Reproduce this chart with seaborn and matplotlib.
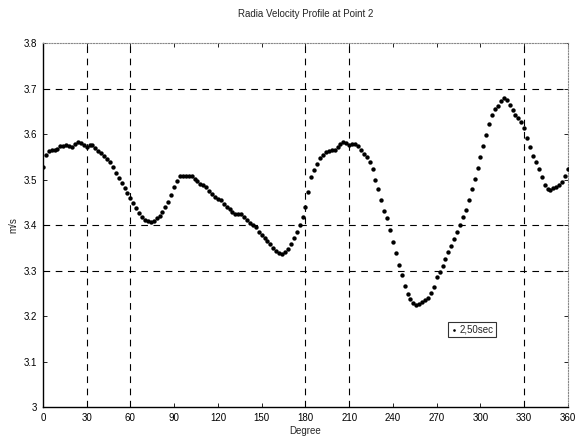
import matplotlib

matplotlib.use("Agg")
import matplotlib.pyplot as plt
import pandas as pd
import seaborn as sns

# angle (deg) and radial velocity (m/s), every 2 degrees
degrees = list(range(0, 361, 2))
velocity = [
    3.528, 3.555, 3.562, 3.565, 3.566, 3.568, 3.573, 3.575, 3.576, 3.573,
    3.572, 3.578, 3.583, 3.580, 3.576, 3.572, 3.576, 3.576, 3.570, 3.564,
    3.558, 3.552, 3.546, 3.538, 3.527, 3.515, 3.503, 3.492, 3.481, 3.470,
    3.459, 3.448, 3.437, 3.427, 3.417, 3.411, 3.409, 3.408, 3.410, 3.415,
    3.421, 3.429, 3.440, 3.452, 3.467, 3.484, 3.497, 3.508, 3.509, 3.507,
    3.508, 3.507, 3.502, 3.496, 3.491, 3.488, 3.483, 3.475, 3.468, 3.462,
    3.458, 3.455, 3.447, 3.440, 3.435, 3.429, 3.424, 3.425, 3.424, 3.418,
    3.411, 3.405, 3.400, 3.395, 3.386, 3.378, 3.372, 3.366, 3.359, 3.350,
    3.343, 3.338, 3.337, 3.340, 3.348, 3.358, 3.371, 3.384, 3.400, 3.418,
    3.440, 3.472, 3.505, 3.521, 3.535, 3.547, 3.555, 3.560, 3.564, 3.565,
    3.566, 3.572, 3.579, 3.582, 3.580, 3.577, 3.578, 3.579, 3.573, 3.566,
    3.557, 3.549, 3.539, 3.523, 3.500, 3.480, 3.455, 3.431, 3.415, 3.390,
    3.364, 3.338, 3.312, 3.290, 3.267, 3.249, 3.237, 3.229, 3.224, 3.227,
    3.232, 3.236, 3.241, 3.250, 3.264, 3.285, 3.296, 3.310, 3.326, 3.340,
    3.354, 3.370, 3.386, 3.400, 3.417, 3.434, 3.456, 3.479, 3.502, 3.526,
    3.550, 3.574, 3.598, 3.622, 3.643, 3.655, 3.663, 3.672, 3.680, 3.674,
    3.664, 3.654, 3.643, 3.635, 3.626, 3.613, 3.592, 3.571, 3.551, 3.538,
    3.524, 3.505, 3.488, 3.479, 3.477, 3.481, 3.484, 3.488, 3.495, 3.508,
    3.524,
]

x_ticks = list(range(0, 361, 30))
y_ticks = [3, 3.1, 3.2, 3.3, 3.4, 3.5, 3.6, 3.7, 3.8]
y_tick_labels = ["3", "3.1", "3.2", "3.3", "3.4", "3.5", "3.6", "3.7", "3.8"]
# only some of the grid lines survived in the scan
dark_vgrid = [30, 60, 180, 210, 330]
dark_hgrid = [3.3, 3.4, 3.7]

df = pd.DataFrame({"Degree": degrees, "m/s": velocity})

sns.set_theme(style="white")
plt.rcParams["font.family"] = ["Liberation Sans", "DejaVu Sans"]

fig = plt.figure(figsize=(5.79, 4.45), dpi=100)
ax = fig.add_axes([0.074, 0.085, 0.907, 0.818])

for xv in dark_vgrid:
    ax.axvline(xv, color="black", lw=0.8, ls=(0, (6, 5)), zorder=1)
for yv in dark_hgrid:
    ax.axhline(yv, color="black", lw=0.8, ls=(0, (6, 5)), zorder=1)

sns.scatterplot(data=df, x="Degree", y="m/s", ax=ax, color="black", s=10,
                linewidth=0, marker="o", label="2,50sec", zorder=3)

ax.set_xlim(0, 360)
ax.set_ylim(3, 3.8)
ax.set_xticks(x_ticks)
ax.set_yticks(y_ticks)
ax.set_yticklabels(y_tick_labels)
ax.tick_params(direction="in", length=3, width=0.6, labelsize=7, pad=4,
               bottom=True, left=True, top=True, right=True, colors="black")

for side in ("left", "bottom"):
    ax.spines[side].set_color("black")
    ax.spines[side].set_linewidth(1.0)
for side in ("top", "right"):
    ax.spines[side].set_color("#888888")
    ax.spines[side].set_linewidth(0.8)
    ax.spines[side].set_linestyle((0, (1, 1.5)))

ax.set_xlabel("Degree", fontsize=7, labelpad=2)
ax.set_ylabel("m/s", fontsize=7, labelpad=4)
ax.set_title("Radia Velocity Profile at Point 2", fontsize=7, pad=19)

leg = ax.legend(loc="center", bbox_to_anchor=(0.817, 0.214), fontsize=7,
                frameon=True, fancybox=False, handletextpad=0.1,
                handlelength=0.8, borderpad=0.25, markerscale=0.6)
leg.get_frame().set_edgecolor("black")
leg.get_frame().set_linewidth(0.8)

fig.savefig("out.png", dpi=100)
